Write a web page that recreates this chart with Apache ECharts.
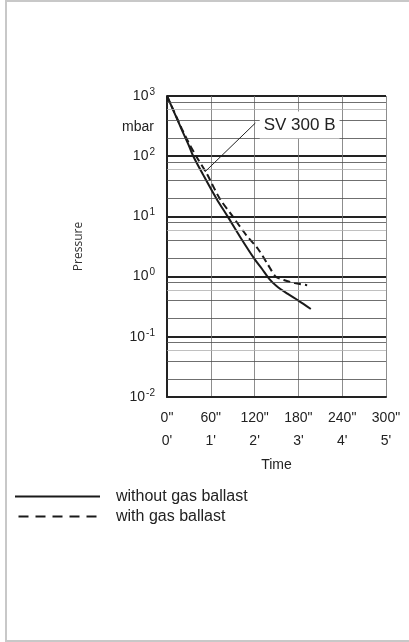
<!DOCTYPE html>
<html>
<head>
<meta charset="utf-8">
<script src="https://cdn.jsdelivr.net/npm/echarts@6/dist/echarts.min.js"></script>
<style>
html,body{margin:0;padding:0;background:#fff;}
#chart{width:409px;height:642px;}
</style>
</head>
<body>
<div id="chart"></div>
<script>
// ---- data (time in seconds, pressure in mbar) ----
const timeSolid  = [0, 10, 20, 30, 36, 50, 68, 83, 100, 120, 130, 140, 150, 165, 180, 197];
const pressSolid = [1000, 530, 280, 150, 100, 48, 19.5, 10, 4.6, 1.95, 1.35, 0.92, 0.7, 0.52, 0.4, 0.29];
const timeDashed  = [0, 10, 20, 30, 40, 55, 72, 90, 108, 125, 138, 149, 160, 175, 192];
const pressDashed = [1000, 540, 290, 165, 100, 50, 20, 10, 5, 2.85, 1.6, 1.0, 0.88, 0.78, 0.72];
const seriesNames = ['without gas ballast', 'with gas ballast'];
const decades = [0.01, 0.1, 1, 10, 100];
const minorFactors = [2, 4, 6, 8];
const annotationText = 'SV 300 B';
const annotationLine = [[52, 55], [121, 355]];
const annotationPos = [127, 330];

const FONT = '"Liberation Sans", Arial, Helvetica, sans-serif';

const minorLines = [];
decades.forEach(d => minorFactors.forEach(f => {
  minorLines.push({
    yAxis: d * f,
    lineStyle: { color: f === 6 ? '#b0b0b0' : '#4a4a4a', width: 0.8, type: 'solid' }
  });
}));

// legend icons: solid bar and five dashes
const solidIcon = 'path://M0,0h85v2h-85z';
const dashedIcon = 'path://M0,0h10v2h-10z M17,0h10v2h-10z M34,0h10v2h-10z M51,0h10v2h-10z M68,0h10v2h-10z';

const chart = echarts.init(document.getElementById('chart'), null, { renderer: 'canvas' });
chart.setOption({
  animation: false,
  backgroundColor: '#fff',
  grid: { left: 167, right: 23, top: 96, bottom: 245, containLabel: false },
  xAxis: {
    type: 'value', min: 0, max: 300, interval: 60,
    name: 'Time', nameLocation: 'middle', nameGap: 61,
    nameTextStyle: { fontFamily: FONT, fontSize: 14, color: '#222' },
    axisLine: { show: true, lineStyle: { color: '#222', width: 2 } },
    axisTick: { show: false },
    splitLine: { show: true, lineStyle: { color: '#707070', width: 0.8 } },
    axisLabel: {
      margin: 10,
      fontFamily: FONT, fontSize: 14, color: '#222', lineHeight: 23,
      formatter: v => v + '"\n' + (v / 60) + '\''
    }
  },
  yAxis: {
    type: 'log', logBase: 10, min: 0.01, max: 1000,
    name: 'Pressure', nameLocation: 'middle', nameRotate: 90, nameGap: 82,
    nameTextStyle: { fontFamily: '"Open Sans", sans-serif', fontSize: 12, color: '#333' },
    axisLine: { show: true, lineStyle: { color: '#222', width: 2 } },
    axisTick: { show: false },
    splitLine: { show: true, lineStyle: { color: '#222', width: 2 } },
    axisLabel: {
      margin: 12,
      formatter: v => '{b|10}{s|' + Math.round(Math.log10(v)) + '}',
      rich: {
        b: { fontFamily: FONT, fontSize: 14, color: '#222', lineHeight: 18 },
        s: { fontFamily: FONT, fontSize: 10, color: '#222', lineHeight: 10, verticalAlign: 'top', padding: [0, 0, 0, 1] }
      }
    }
  },
  legend: {
    left: 15, top: 488, orient: 'vertical', padding: 0,
    itemWidth: 85, itemHeight: 2, itemGap: 3,
    selectedMode: false,
    itemStyle: { color: '#1a1a1a', borderWidth: 0 },
    lineStyle: { width: 0 },
    textStyle: { fontFamily: FONT, fontSize: 16, color: '#222', padding: [0, 0, 0, 11], lineHeight: 17 },
    data: [
      { name: seriesNames[0], icon: solidIcon },
      { name: seriesNames[1], icon: dashedIcon }
    ]
  },
  series: [
    {
      name: seriesNames[0], type: 'line', symbol: 'none', smooth: 0.3,
      lineStyle: { color: '#1a1a1a', width: 2 },
      itemStyle: { color: '#1a1a1a' },
      data: timeSolid.map((t, i) => [t, pressSolid[i]]),
      markLine: {
        silent: true, symbol: 'none', label: { show: false }, animation: false,
        data: minorLines
      },
      z: 3
    },
    {
      name: seriesNames[1], type: 'line', symbol: 'none', smooth: 0.3,
      lineStyle: { color: '#1a1a1a', width: 2, type: [7, 4] },
      itemStyle: { color: '#1a1a1a' },
      data: timeDashed.map((t, i) => [t, pressDashed[i]]),
      markLine: {
        silent: true, symbol: 'none', label: { show: false }, animation: false,
        lineStyle: { color: '#222', width: 1, type: 'solid' },
        data: [[{ coord: annotationLine[0] }, { coord: annotationLine[1] }]]
      },
      markPoint: {
        silent: true, symbol: 'rect', symbolSize: 0,
        data: [{ coord: annotationPos }],
        label: {
          show: true, position: 'right', distance: 0,
          formatter: annotationText,
          fontFamily: FONT, fontSize: 17, color: '#222',
          backgroundColor: '#fff', padding: [5, 4]
        }
      },
      z: 4
    }
  ],
  graphic: [
    {
      type: 'rect', silent: true, z: 100,
      shape: { x: 6, y: 1, width: 430, height: 640 },
      style: { fill: 'none', stroke: '#c8c8c8', lineWidth: 2 }
    },
    {
      type: 'text', silent: true, x: 154, y: 127,
      style: { text: 'mbar', font: '14px ' + FONT, fill: '#222', textAlign: 'right', textVerticalAlign: 'middle' }
    }
  ]
});
</script>
</body>
</html>
